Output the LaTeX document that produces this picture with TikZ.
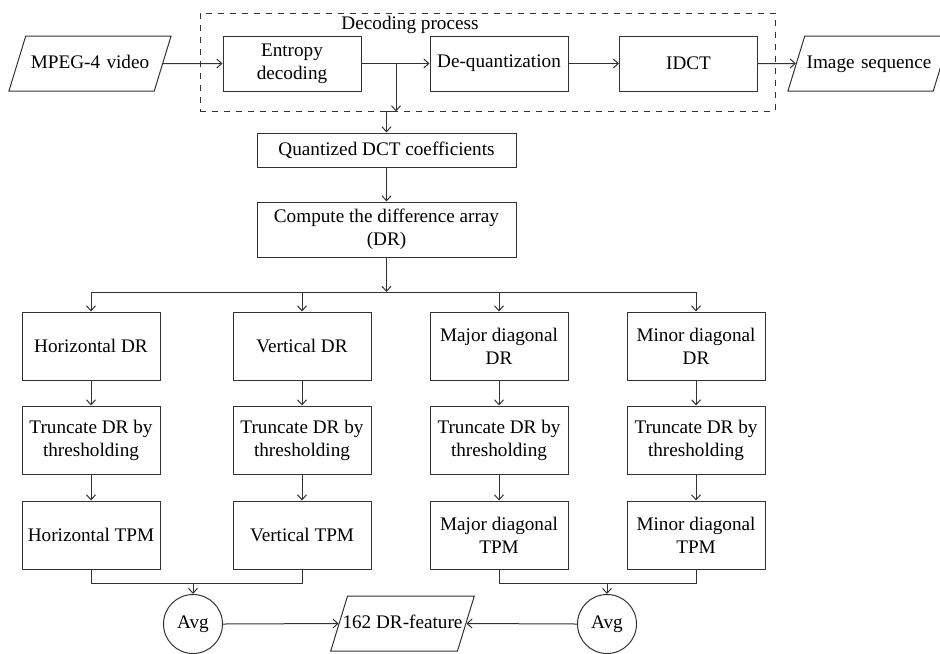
\documentclass[tikz,border=0pt]{standalone}
\usepackage{fontspec}
\setmainfont{Liberation Serif}
\usetikzlibrary{shapes.geometric,arrows.meta}
\tikzset{
	box/.style={draw=black!80,line width=0.5pt,align=center,inner sep=1pt,font=\fontsize{9.6}{11.5}\selectfont},
	topbox/.style={box,minimum width=69pt,minimum height=27.5pt},
	colbox/.style={box,minimum width=69pt,minimum height=34pt},
	iobox/.style={box,trapezium,trapezium left angle=73,trapezium right angle=107,text height=7pt,text depth=2pt,inner ysep=9.25pt,inner xsep=0pt},
	avgnode/.style={box,circle,minimum size=29.5pt},
	arr/.style={draw=black!80,line width=0.5pt,-{Straight Barb[length=2.5pt,width=4.5pt]}},
	ln/.style={draw=black!80,line width=0.5pt}
}
\begin{document}
\begin{tikzpicture}[x=0.5pt,y=-0.5pt]
	\useasboundingbox (0,0) rectangle (940,653);
	\node[box,dashed,minimum width=287.5pt,minimum height=49pt] (dec) at (487.5,62) {};
	\node[font=\fontsize{9.6}{11.5}\selectfont] (declab) at (410,25) {Decoding process};
	\node[iobox,text width=64.25pt] (mpeg) at (90,63.5) {MPEG-4 video};
	\node[topbox] (ent) at (292,63.5) {Entropy\\decoding};
	\node[topbox] (deq) at (499,63.5) {De-quantization};
	\node[topbox] (idct) at (688.5,63.5) {IDCT};
	\node[iobox,text width=64.25pt] (img) at (869,63.5) {Image sequence};
	\node[box,minimum width=129.5pt,minimum height=17pt] (qdct) at (386.5,150) {Quantized DCT coefficients};
	\node[box,minimum width=129.5pt,minimum height=27.5pt] (diff) at (386.5,229.5) {Compute the difference array\\(DR)};
	% first row
	\node[colbox] (hdr) at (91,346) {Horizontal DR};
	\node[colbox] (vdr) at (302,346) {Vertical DR};
	\node[colbox] (mjdr) at (499,346) {Major diagonal\\DR};
	\node[colbox] (mndr) at (696,346) {Minor diagonal\\DR};
	% second row
	\node[colbox] (htr) at (91,440) {Truncate DR by\\thresholding};
	\node[colbox] (vtr) at (302,440) {Truncate DR by\\thresholding};
	\node[colbox] (mjtr) at (499,440) {Truncate DR by\\thresholding};
	\node[colbox] (mntr) at (696,440) {Truncate DR by\\thresholding};
	% third row
	\node[colbox] (htpm) at (91,535) {Horizontal TPM};
	\node[colbox] (vtpm) at (302,535) {Vertical TPM};
	\node[colbox] (mjtpm) at (499,535) {Major diagonal\\TPM};
	\node[colbox] (mntpm) at (696,535) {Minor diagonal\\TPM};
	\node[avgnode] (avgl) at (193,624) {Avg};
	\node[avgnode] (avgr) at (607,624) {Avg};
	\node[iobox,inner xsep=-2.5pt] (feat) at (402.5,623.5) {162 DR-feature};
	\coordinate (br) at (396,63.5);
	\coordinate (bus) at (386.5,292);
	\coordinate (jl) at (193,583);
	\coordinate (jr) at (607,583);
	% top line
	\draw[arr] (mpeg.east) -- (ent.west);
	\draw[arr] (ent.east) -- (deq.west);
	\draw[arr] (deq.east) -- (idct.west);
	\draw[arr] (idct.east) -- (img.west);
	\draw[arr] (br) -- (br |- dec.south);
	\draw[arr] (br |- dec.south) -| (qdct.north);
	\draw[arr] (qdct.south) -- (diff.north);
	\draw[arr] (diff.south) -- (bus);
	\draw[arr] (bus) -| (hdr.north);
	\draw[arr] (bus) -| (vdr.north);
	\draw[arr] (bus) -| (mjdr.north);
	\draw[arr] (bus) -| (mndr.north);
	\draw[arr] (hdr) -- (htr);
	\draw[arr] (vdr) -- (vtr);
	\draw[arr] (mjdr) -- (mjtr);
	\draw[arr] (mndr) -- (mntr);
	\draw[arr] (htr) -- (htpm);
	\draw[arr] (vtr) -- (vtpm);
	\draw[arr] (mjtr) -- (mjtpm);
	\draw[arr] (mntr) -- (mntpm);
	% averaging
	\draw[ln] (htpm.south) |- (jl) -| (vtpm.south);
	\draw[ln] (mjtpm.south) |- (jr) -| (mntpm.south);
	\draw[arr] (jl) -- (avgl.north);
	\draw[arr] (jr) -- (avgr.north);
	\draw[arr] (avgl.east) -- (feat.west);
	\draw[arr] (avgr.west) -- (feat.east);
\end{tikzpicture}
\end{document}
